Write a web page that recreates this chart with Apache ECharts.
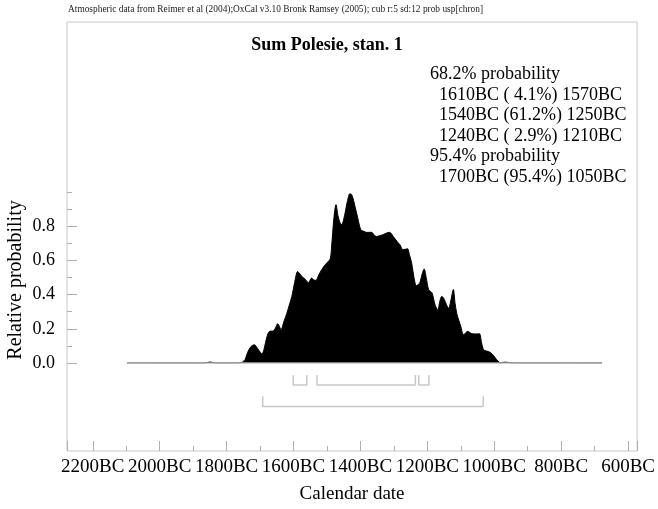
<!DOCTYPE html>
<html><head><meta charset="utf-8">
<script src="https://cdn.jsdelivr.net/npm/echarts@6/dist/echarts.min.js"></script>
<style>html,body{margin:0;padding:0;background:#fff;overflow:hidden}#c{width:658px;height:509px}</style>
</head><body><div id="c"></div>
<script>
// ---- data (years BC, relative probability) ----
const years = [2100,1870,1855,1840,1770,1760,1752,1745,1735,1725,1715,1708,1702,1695,1688,1680,1668,1660,1656,1650,1646,1638,1629,1620,1614,1606,1597,1590,1585,1575,1565,1556,1549,1543,1535,1526,1518,1511,1501,1497,1490,1484,1478,1472,1467,1458,1450,1443,1438,1432,1428,1420,1411,1402,1394,1379,1370,1364,1354,1344,1335,1326,1315,1304,1295,1287,1280,1273,1267,1261,1254,1247,1241,1237,1230,1224,1218,1211,1201,1192,1184,1178,1172,1167,1162,1152,1145,1138,1133,1128,1122,1116,1108,1100,1096,1083,1070,1061,1055,1049,1040,1029,1020,1014,1006,1000,985,975,960,700];
const probs = [0,0,0.006,0,0,0.005,0.02,0.06,0.095,0.107,0.085,0.065,0.054,0.09,0.15,0.185,0.188,0.215,0.23,0.21,0.195,0.24,0.29,0.35,0.39,0.47,0.535,0.52,0.507,0.49,0.47,0.497,0.485,0.483,0.515,0.546,0.57,0.585,0.61,0.68,0.85,0.926,0.86,0.82,0.81,0.87,0.95,0.99,0.985,0.95,0.916,0.85,0.78,0.77,0.764,0.764,0.745,0.74,0.745,0.752,0.76,0.764,0.74,0.711,0.69,0.663,0.665,0.668,0.63,0.585,0.5,0.452,0.46,0.468,0.52,0.55,0.5,0.43,0.41,0.34,0.31,0.36,0.39,0.38,0.36,0.32,0.37,0.43,0.35,0.29,0.25,0.214,0.165,0.18,0.185,0.171,0.17,0.171,0.12,0.078,0.07,0.062,0.045,0.029,0.01,0.002,0.005,0.003,0,0];
const range68 = [[1610,1570],[1540,1250],[1240,1210]];
const range95 = [[1700,1050]];
const legendLines = ['68.2% probability','  1610BC ( 4.1%) 1570BC','  1540BC (61.2%) 1250BC','  1240BC ( 2.9%) 1210BC','95.4% probability','  1700BC (95.4%) 1050BC'];
const titleText = 'Sum Polesie, stan. 1';
const headerText = 'Atmospheric data from Reimer et al (2004);OxCal v3.10 Bronk Ramsey (2005); cub r:5 sd:12 prob usp[chron]';
const xName = 'Calendar date';
const yName = 'Relative probability';

// ---- layout ----
const FONT = '"Liberation Serif","Times New Roman",serif';
const XMIN = -2277, XMAX = -573;
const L = 67, R = 658 - 645;
const Y0 = 363, Y1 = 192; // pixel of 0 and 1.0
const FT = 22, FB = 455; // frame top/bottom
const pxPerUnit = Y0 - Y1;

const area = years.map((y, i) => [-y, probs[i]]);
function brackets(ranges, top, bot) {
  const out = [];
  ranges.forEach(r => {
    out.push([-r[0], top], [-r[0], bot], [-r[1], bot], [-r[1], top], ['-', '-']);
  });
  return out;
}
const b68 = brackets(range68, -0.07, -0.128);
const b95 = brackets(range95, -0.195, -0.254);

const hiddenX = (gi) => ({type:'value', gridIndex:gi, min:XMIN, max:XMAX, show:false});
const chart = echarts.init(document.getElementById('c'), null, {renderer:'canvas'});
chart.setOption({
  animation:false,
  backgroundColor:'#fff',
  grid:[
    {left:L, right:R, top:Y1, bottom:509 - Y0},
    {left:L, right:R, top:FT, bottom:509 - FB, show:true, borderColor:'#c8c8c8', borderWidth:1, backgroundColor:'transparent'},
    {left:L, right:R, top:Y0 - 0.8 * pxPerUnit, bottom:509 - Y0}
  ],
  xAxis:[
    hiddenX(0),
    {type:'value', gridIndex:1, min:XMIN, max:XMAX, splitNumber:9, position:'bottom',
     axisLine:{show:false, onZero:false}, splitLine:{show:false},
     axisTick:{show:true, inside:true, length:10, lineStyle:{color:'#b0b0b0', width:1}},
     minorTick:{show:true, splitNumber:2, length:5, lineStyle:{color:'#b0b0b0', width:1}},
     axisLabel:{show:true, showMinLabel:false, showMaxLabel:false, margin:7, color:'#000', fontFamily:FONT, fontSize:19,
       formatter:v => (-v) + 'BC'},
     name:xName, nameLocation:'middle', nameGap:34, nameTextStyle:{color:'#000', fontFamily:FONT, fontSize:19}},
    hiddenX(2)
  ],
  yAxis:[
    {type:'value', gridIndex:0, min:0, max:1, interval:0.1,
     axisLine:{show:false, onZero:false}, splitLine:{show:false}, axisLabel:{show:false},
     axisTick:{show:true, inside:true, length:5, lineStyle:{color:'#b0b0b0'}}},
    {type:'value', gridIndex:1, min:0, max:1, show:false},
    {type:'value', gridIndex:2, min:0, max:0.8, interval:0.2,
     axisLine:{show:false, onZero:false}, splitLine:{show:false},
     axisTick:{show:true, inside:true, length:10, lineStyle:{color:'#b0b0b0'}},
     axisLabel:{show:true, margin:12, color:'#000', fontFamily:FONT, fontSize:18, formatter:v => v.toFixed(1)}}
  ],
  series:[
    {type:'line', xAxisIndex:0, yAxisIndex:0, data:area, symbol:'none', smooth:0.3,
     lineStyle:{color:'#000', width:1}, areaStyle:{color:'#000', opacity:1}, z:2},
    {type:'line', xAxisIndex:0, yAxisIndex:0, data:[[-years[0],0],[-years[years.length-1],0]], symbol:'none',
     lineStyle:{color:'#aaa', width:1.5}, z:3},
    {type:'line', xAxisIndex:0, yAxisIndex:0, data:b68, symbol:'none', connectNulls:false, clip:false,
     lineStyle:{color:'#c8c8c8', width:1.5}, z:3},
    {type:'line', xAxisIndex:0, yAxisIndex:0, data:b95, symbol:'none', connectNulls:false, clip:false,
     lineStyle:{color:'#c8c8c8', width:1.5}, z:3}
  ],
  graphic:[
    {type:'text', left:68, top:5, style:{text:headerText, font:'9.4px ' + FONT, fill:'#222'}},
    {type:'text', x:327, y:45, style:{text:titleText, font:'bold 18px ' + FONT, fill:'#000', align:'center', verticalAlign:'middle'}},
    {type:'text', x:430, y:64.5, style:{text:legendLines.join('\n'), font:'18px ' + FONT, lineHeight:20.5, fill:'#000', align:'left', verticalAlign:'top'}},
    {type:'text', x:16, y:280, rotation:Math.PI/2, style:{text:yName, font:'20px ' + FONT, fill:'#000', align:'center', verticalAlign:'middle'}}
  ]
});
</script>
</body></html>
